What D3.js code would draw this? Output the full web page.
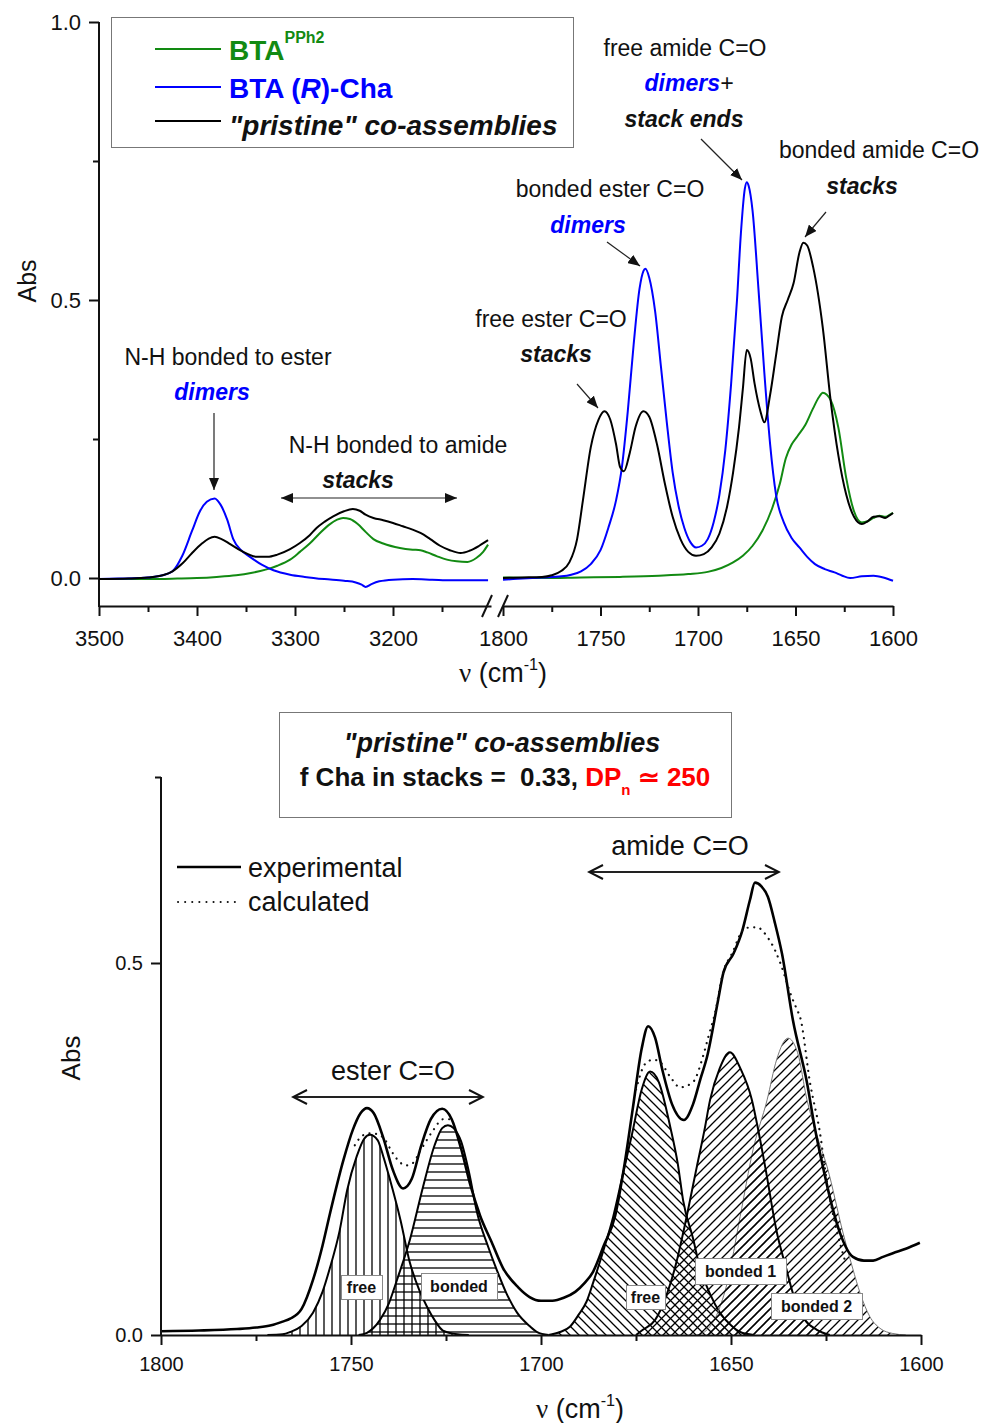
<!DOCTYPE html>
<html>
<head>
<meta charset="utf-8">
<script src="https://cdn.jsdelivr.net/npm/d3@7/dist/d3.min.js"></script>
<style>
  body { margin: 0; background: #fff; }
  svg text { font-family: "Liberation Sans", Arial, sans-serif; white-space: pre; }
</style>
</head>
<body>
<svg id="chart" width="984" height="1423"></svg>
<script>
//----------------------------------------------------------------------------------------------------------------------
// Data (wavenumber cm-1, absorbance)
//----------------------------------------------------------------------------------------------------------------------
const topLeftBlue = [[3500,-0.002],[3480,-0.001],[3460,0],[3445,0.002],[3435,0.005],[3425,0.012],[3415,0.04],[3405,0.085],
  [3397,0.12],[3390,0.137],[3382,0.143],[3376,0.132],[3369,0.104],[3363,0.07],[3355,0.05],[3346,0.038],[3334,0.024],
  [3322,0.014],[3305,0.006],[3290,0.002],[3270,-0.002],[3250,-0.005],[3238,-0.008],[3232,-0.012],[3228,-0.016],
  [3222,-0.011],[3214,-0.006],[3200,-0.003],[3180,-0.002],[3160,-0.003],[3140,-0.004],[3120,-0.004],[3103,-0.004]];
const topLeftBlack = [[3500,-0.002],[3470,-0.001],[3450,0.001],[3435,0.005],[3425,0.012],[3415,0.026],[3405,0.045],
  [3395,0.062],[3388,0.071],[3382,0.074],[3375,0.07],[3367,0.062],[3358,0.052],[3348,0.043],[3339,0.038],[3328,0.038],
  [3318,0.042],[3305,0.052],[3295,0.063],[3285,0.077],[3278,0.09],[3270,0.101],[3261,0.111],[3250,0.12],[3241,0.124],
  [3234,0.121],[3228,0.114],[3220,0.108],[3210,0.104],[3200,0.099],[3190,0.093],[3180,0.087],[3172,0.081],[3162,0.07],
  [3152,0.058],[3142,0.05],[3131,0.045],[3122,0.049],[3112,0.058],[3103,0.068]];
const topLeftGreen = [[3500,-0.002],[3450,-0.002],[3420,-0.001],[3400,0],[3380,0.002],[3360,0.005],[3345,0.009],
  [3330,0.015],[3318,0.022],[3305,0.033],[3295,0.047],[3285,0.062],[3275,0.08],[3265,0.096],[3257,0.105],[3251,0.108],
  [3244,0.106],[3236,0.097],[3228,0.083],[3220,0.07],[3210,0.062],[3193,0.054],[3180,0.051],[3172,0.05],[3165,0.046],
  [3155,0.039],[3145,0.033],[3135,0.03],[3124,0.029],[3115,0.036],[3108,0.047],[3103,0.06]];

const topRightBlue = [[1800,-0.003],[1790,-0.001],[1780,0.001],[1770,0.003],[1765,0.006],[1760,0.012],[1755,0.025],
  [1750,0.05],[1746,0.09],[1742,0.14],[1739,0.2],[1736,0.3],[1733,0.42],[1730,0.52],[1728,0.552],[1727,0.556],
  [1725,0.54],[1722,0.48],[1719,0.38],[1716,0.28],[1713,0.19],[1710,0.13],[1707,0.09],[1704,0.065],[1701,0.055],
  [1698,0.058],[1695,0.07],[1692,0.1],[1689,0.15],[1686,0.23],[1683,0.35],[1680,0.5],[1678,0.62],[1676,0.7],
  [1675,0.712],[1674,0.705],[1672,0.66],[1669,0.52],[1666,0.37],[1663,0.24],[1660,0.15],[1656,0.1],[1652,0.072],
  [1648,0.055],[1644,0.038],[1640,0.025],[1635,0.016],[1630,0.01],[1626,0.004],[1622,0.0],[1616,0.003],[1610,0.004],
  [1605,0.001],[1600,-0.005]];
const topRightBlack = [[1800,0.0],[1790,0.001],[1780,0.002],[1775,0.005],[1770,0.013],[1766,0.028],[1762,0.07],
  [1759,0.14],[1755,0.235],[1751,0.285],[1748,0.3],[1745,0.285],[1742,0.24],[1740,0.2],[1738,0.192],[1735,0.225],
  [1732,0.272],[1728,0.3],[1725,0.29],[1721,0.24],[1717,0.17],[1713,0.11],[1709,0.07],[1705,0.047],[1701,0.04],
  [1697,0.043],[1693,0.055],[1689,0.08],[1685,0.13],[1682,0.19],[1679,0.27],[1677,0.34],[1675,0.41],[1673,0.395],
  [1671,0.35],[1668,0.3],[1666,0.28],[1663,0.33],[1660,0.4],[1657,0.47],[1654,0.5],[1651,0.53],[1648,0.585],
  [1646,0.603],[1644,0.598],[1641,0.56],[1636,0.45],[1632,0.32],[1628,0.22],[1624,0.15],[1620,0.11],[1616,0.097],
  [1613,0.102],[1610,0.11],[1607,0.111],[1604,0.108],[1602,0.112],[1600,0.117]];
const topRightGreen = [[1800,0.001],[1780,0.0],[1760,0.001],[1740,0.002],[1720,0.004],[1705,0.007],[1695,0.011],
  [1688,0.018],[1682,0.028],[1677,0.04],[1672,0.058],[1667,0.085],[1662,0.125],[1658,0.17],[1655,0.215],[1652,0.24],
  [1649,0.255],[1645,0.275],[1641,0.305],[1638,0.325],[1636,0.333],[1632,0.32],[1628,0.27],[1624,0.18],[1620,0.12],
  [1616,0.1],[1613,0.102],[1610,0.108],[1607,0.112],[1604,0.11],[1602,0.113],[1600,0.117]];

const experimental = [[1800,0.005],[1790,0.006],[1780,0.008],[1775,0.01],[1771,0.013],[1768,0.018],[1766,0.022],
  [1763,0.035],[1760,0.074],[1757.5,0.12],[1755.5,0.164],[1752,0.235],[1749.5,0.276],[1747.5,0.298],[1745.8,0.305],
  [1744,0.298],[1741.5,0.265],[1739,0.222],[1736.3,0.197],[1734,0.21],[1731.5,0.255],[1729,0.29],[1726,0.304],
  [1723.5,0.29],[1721,0.25],[1718.5,0.2],[1716,0.16],[1713,0.125],[1710,0.09],[1706,0.064],[1703,0.051],[1700,0.046],
  [1697,0.046],[1694,0.05],[1691,0.058],[1688.5,0.07],[1686.3,0.085],[1683.5,0.12],[1680.5,0.16],[1678,0.23],
  [1675.8,0.306],[1673.5,0.385],[1671.8,0.415],[1670,0.4],[1668,0.355],[1665.5,0.31],[1662.4,0.289],[1660,0.31],
  [1658,0.345],[1656.3,0.374],[1653.4,0.45],[1652,0.487],[1649.3,0.513],[1647,0.544],[1645,0.585],[1643.7,0.608],
  [1642,0.603],[1640.3,0.589],[1638.5,0.555],[1636.6,0.513],[1633.7,0.423],[1630,0.339],[1628,0.28],[1625.8,0.226],
  [1623.5,0.175],[1621.3,0.137],[1617.9,0.105],[1615,0.1],[1612.6,0.1],[1610,0.105],[1607.4,0.11],[1604,0.116],
  [1600.3,0.124]];
const calcEster = [[1749,0.255],[1747,0.268],[1745,0.271],[1743,0.27],[1741,0.262],[1739.2,0.246],[1737.1,0.232],
  [1735.5,0.228],[1734,0.23],[1731.5,0.25],[1728.4,0.275],[1725.8,0.29],[1724,0.29]];
const calcAmide = [[1675,0.33],[1672.5,0.365],[1670.5,0.37],[1668.7,0.367],[1666,0.347],[1663.4,0.333],[1660,0.34],
  [1657.4,0.374],[1656,0.4],[1654.2,0.433],[1652.1,0.487],[1649.7,0.513],[1646.3,0.547],[1643.2,0.548],[1640.3,0.534],
  [1638.4,0.517],[1637.1,0.501],[1634,0.454],[1632.6,0.437],[1631.8,0.427],[1629.2,0.339],[1626.6,0.272],
  [1624.7,0.204],[1622,0.137],[1620,0.1]];

const esterFree = [[1772,0],[1768,0.001],[1766,0.004],[1763,0.012],[1760,0.03],[1757.5,0.058],[1755.5,0.091],
  [1753,0.14],[1751,0.195],[1748.5,0.24],[1746.5,0.264],[1745,0.269],[1743,0.262],[1741.5,0.24],[1739.7,0.208],
  [1737,0.155],[1734.5,0.097],[1732,0.06],[1730,0.038],[1728,0.02],[1725.8,0.006],[1722,0.001],[1719,0]];
const esterBonded = [[1748,0],[1745.8,0.003],[1742.4,0.02],[1740,0.043],[1737.9,0.074],[1734.5,0.128],[1731,0.2],
  [1728,0.255],[1726,0.278],[1724.5,0.282],[1723,0.278],[1721,0.26],[1719,0.22],[1716.8,0.164],[1714,0.12],
  [1711.6,0.087],[1709,0.055],[1706.3,0.03],[1703,0.012],[1701,0.004],[1698,0]];
const amideFree = [[1698,0],[1695,0.004],[1692.4,0.011],[1690,0.028],[1688,0.045],[1686.3,0.07],[1683.5,0.115],
  [1681,0.159],[1678.5,0.215],[1676,0.271],[1673.5,0.33],[1671.3,0.354],[1669,0.34],[1666,0.28],[1664,0.23],
  [1662.6,0.181],[1660,0.13],[1658.2,0.091],[1655.5,0.055],[1652.9,0.03],[1650,0.013],[1647.6,0.004],[1644,0]];
const amideBonded1 = [[1675,0],[1673.2,0.007],[1670,0.02],[1666.8,0.056],[1664.5,0.095],[1662.6,0.137],[1659,0.226],
  [1657,0.275],[1655.5,0.316],[1653,0.358],[1650.3,0.38],[1647.5,0.358],[1644.5,0.316],[1643,0.28],[1641,0.226],
  [1637.9,0.137],[1635.5,0.09],[1633.7,0.056],[1630.5,0.02],[1627.4,0.007],[1624,0]];
const amideBonded2 = [[1659,0],[1656.3,0.007],[1653.5,0.03],[1651,0.07],[1647.6,0.159],[1644.2,0.249],[1640.5,0.316],
  [1638,0.37],[1635,0.399],[1632.5,0.38],[1630,0.316],[1627.5,0.27],[1624.7,0.226],[1620.5,0.137],[1618,0.09],
  [1616,0.056],[1613.5,0.025],[1610.8,0.009],[1607.4,0.002],[1604,0]];

// tick values
const topYTicks = [0, 0.5, 1.0], topYMinor = [0.25, 0.75];
const topLeftTicks = [3500, 3400, 3300, 3200], topLeftMinor = [3450, 3350, 3250, 3150];
const topRightTicks = [1800, 1750, 1700, 1650, 1600], topRightMinor = [1775, 1725, 1675, 1625];
const botXTicks = [1800, 1750, 1700, 1650, 1600], botXMinor = [1775, 1725, 1675, 1625];
const botYTicks = [0, 0.5], botYMinor = [0.75];

const GREEN = "#128a12", BLUE = "#0000ff";

//----------------------------------------------------------------------------------------------------------------------
// Setup
//----------------------------------------------------------------------------------------------------------------------
const svg = d3.select("#chart");
const defs = svg.append("defs");

function hatch(id, size, d) {
    defs.append("pattern").attr("id", id).attr("patternUnits", "userSpaceOnUse")
        .attr("width", size).attr("height", size)
        .append("path").attr("d", d).attr("stroke", "#000").attr("stroke-width", 1.3).attr("fill", "none");
}
hatch("hVert", 8, "M4,0V8");
hatch("hHorz", 8, "M0,4H8");
hatch("hBack", 9, "M0,0L9,9M-3,6L3,12M6,-3L12,3");
hatch("hFwd", 9, "M0,9L9,0M-3,3L3,-3M6,12L12,6");

defs.append("marker").attr("id", "headFill").attr("viewBox", "0 0 12 10")
    .attr("refX", 12).attr("refY", 5).attr("markerWidth", 12).attr("markerHeight", 10)
    .attr("markerUnits", "userSpaceOnUse").attr("orient", "auto-start-reverse")
    .append("path").attr("d", "M0,0L12,5L0,10Z").attr("fill", "#111");
defs.append("marker").attr("id", "headOpen").attr("viewBox", "0 0 18 18")
    .attr("refX", 16).attr("refY", 9).attr("markerWidth", 18).attr("markerHeight", 18)
    .attr("markerUnits", "userSpaceOnUse").attr("orient", "auto-start-reverse")
    .append("path").attr("d", "M2,2L16,9L2,16").attr("fill", "none").attr("stroke", "#111")
    .attr("stroke-width", 2);

function styleAxis(sel, fs) {
    sel.selectAll("text").attr("font-size", fs).attr("font-family", '"Liberation Sans", Arial, sans-serif').attr("fill", "#111");
    sel.selectAll("line").attr("stroke", "#111").attr("stroke-width", 2);
    sel.selectAll(".domain").attr("stroke", "#111").attr("stroke-width", 2);
}

function xAxis(g, scale, y, major, minor, pad, fs) {
    const a = g.append("g").attr("transform", "translate(0," + y + ")")
        .call(d3.axisBottom(scale).tickValues(major).tickSize(10).tickSizeOuter(0)
            .tickPadding(pad).tickFormat(d3.format("d")));
    styleAxis(a, fs);
    const m = g.append("g").attr("transform", "translate(0," + y + ")")
        .call(d3.axisBottom(scale).tickValues(minor).tickSize(6).tickFormat(""));
    m.select(".domain").remove();
    styleAxis(m, fs);
}

function yAxis(g, scale, x, major, minor, y0, y1, fs) {
    g.append("line").attr("x1", x).attr("x2", x).attr("y1", y0).attr("y2", y1)
        .attr("stroke", "#111").attr("stroke-width", 2);
    const a = g.append("g").attr("transform", "translate(" + x + ",0)")
        .call(d3.axisLeft(scale).tickValues(major).tickSize(10).tickPadding(8).tickFormat(d3.format(".1f")));
    a.select(".domain").remove();
    styleAxis(a, fs);
    const m = g.append("g").attr("transform", "translate(" + x + ",0)")
        .call(d3.axisLeft(scale).tickValues(minor).tickSize(6).tickFormat(""));
    m.select(".domain").remove();
    styleAxis(m, fs);
}

function label(g, x, y, txt, opt) {
    opt = opt || {};
    return g.append("text").attr("x", x).attr("y", y)
        .attr("text-anchor", opt.anchor || "middle")
        .attr("font-size", opt.size || 23)
        .attr("font-weight", opt.bold ? "bold" : "normal")
        .attr("font-style", opt.italic ? "italic" : "normal")
        .attr("fill", opt.color || "#111")
        .text(txt);
}

function arrow(g, x1, y1, x2, y2, both, open) {
    const l = g.append("line").attr("x1", x1).attr("y1", y1).attr("x2", x2).attr("y2", y2)
        .attr("stroke", "#222").attr("stroke-width", open ? 2 : 1.2)
        .attr("marker-end", open ? "url(#headOpen)" : "url(#headFill)");
    if (both) l.attr("marker-start", open ? "url(#headOpen)" : "url(#headFill)");
}

function nuLabel(g, x, y, fs) {
    const t = g.append("text").attr("x", x).attr("y", y).attr("text-anchor", "middle")
        .attr("font-size", fs).attr("fill", "#111");
    t.append("tspan").attr("font-family", '"Liberation Serif", serif').text("ν");
    t.append("tspan").text(" (cm");
    t.append("tspan").attr("dy", -fs * 0.45).attr("font-size", fs * 0.6).text("-1");
    t.append("tspan").attr("dy", fs * 0.45).text(")");
}

//----------------------------------------------------------------------------------------------------------------------
// Top chart
//----------------------------------------------------------------------------------------------------------------------
const yTop = d3.scaleLinear().domain([0, 1]).range([578, 22]);
const xL = d3.scaleLinear().domain([3500, 3100]).range([99, 491]);
const xR = d3.scaleLinear().domain([1800, 1600]).range([503, 893]);

const topG = svg.append("g");
yAxis(topG, yTop, 99, topYTicks, topYMinor, 22, 607, 22);
xAxis(topG, xL, 606, topLeftTicks, topLeftMinor, 14, 22);
xAxis(topG, xR, 606, topRightTicks, topRightMinor, 14, 22);
// axis break marks
topG.append("path").attr("d", "M482,617L492,595M498,617L508,595")
    .attr("stroke", "#111").attr("stroke-width", 2).attr("fill", "none");

const lineL = d3.line().x(d => xL(d[0])).y(d => yTop(d[1])).curve(d3.curveMonotoneX);
const lineR = d3.line().x(d => xR(d[0])).y(d => yTop(d[1])).curve(d3.curveMonotoneX);
const topSeries = [
    {left: topLeftGreen, right: topRightGreen, color: GREEN},
    {left: topLeftBlue, right: topRightBlue, color: BLUE},
    {left: topLeftBlack, right: topRightBlack, color: "#000"}
];
for (const s of topSeries) {
    topG.append("path").attr("d", lineL(s.left)).attr("fill", "none").attr("stroke", s.color).attr("stroke-width", 2);
    topG.append("path").attr("d", lineR(s.right)).attr("fill", "none").attr("stroke", s.color).attr("stroke-width", 2);
}

// legend
topG.append("rect").attr("x", 111.5).attr("y", 17.5).attr("width", 462).attr("height", 130)
    .attr("fill", "#fff").attr("stroke", "#777").attr("stroke-width", 1);
[[49, GREEN], [87, BLUE], [121, "#000"]].forEach(([y, c]) => {
    topG.append("line").attr("x1", 155).attr("x2", 221).attr("y1", y).attr("y2", y)
        .attr("stroke", c).attr("stroke-width", 2);
});
let t = label(topG, 229, 60, "BTA", {anchor: "start", size: 28, bold: true, color: GREEN});
t.append("tspan").attr("dy", -17).attr("font-size", 16).text("PPh2");
t = topG.append("text").attr("x", 229).attr("y", 98).attr("font-size", 28).attr("font-weight", "bold").attr("fill", BLUE);
t.append("tspan").text("BTA (");
t.append("tspan").attr("font-style", "italic").text("R");
t.append("tspan").text(")-Cha");
label(topG, 229, 135, "\"pristine\" co-assemblies", {anchor: "start", size: 28, bold: true, italic: true});

// annotations
label(topG, 685, 56, "free amide C=O");
t = topG.append("text").attr("x", 689).attr("y", 91).attr("text-anchor", "middle")
    .attr("font-size", 23).attr("font-weight", "bold").attr("font-style", "italic");
t.append("tspan").attr("fill", BLUE).text("dimers");
t.append("tspan").attr("fill", "#111").attr("font-weight", "normal").text("+");
label(topG, 684, 127, "stack ends", {bold: true, italic: true});
arrow(topG, 701, 139, 742, 180);

label(topG, 879, 158, "bonded amide C=O");
label(topG, 862, 194, "stacks", {bold: true, italic: true});
arrow(topG, 826, 212, 805, 237);

label(topG, 610, 197, "bonded ester C=O");
label(topG, 588, 233, "dimers", {bold: true, italic: true, color: BLUE});
arrow(topG, 607, 242, 640, 266);

label(topG, 551, 327, "free ester C=O");
label(topG, 556, 362, "stacks", {bold: true, italic: true});
arrow(topG, 577, 384, 598, 408);

label(topG, 228, 365, "N-H bonded to ester");
label(topG, 212, 400, "dimers", {bold: true, italic: true, color: BLUE});
arrow(topG, 214, 413, 214, 490);

label(topG, 398, 453, "N-H bonded to amide");
label(topG, 358, 488, "stacks", {bold: true, italic: true});
arrow(topG, 281, 498, 457, 498, true);

// axis titles
label(topG, 36, 281, "Abs", {size: 25}).attr("transform", "rotate(-90,36,281)");
nuLabel(topG, 503, 682, 27);

//----------------------------------------------------------------------------------------------------------------------
// Bottom chart
//----------------------------------------------------------------------------------------------------------------------
const yBot = d3.scaleLinear().domain([0, 0.75]).range([1335, 777]);
const xBot = d3.scaleLinear().domain([1800, 1600]).range([161, 921]);
const botG = svg.append("g");

const area = d3.area().x(d => xBot(d[0])).y0(yBot(0)).y1(d => yBot(d[1])).curve(d3.curveMonotoneX);
const line = d3.line().x(d => xBot(d[0])).y(d => yBot(d[1])).curve(d3.curveMonotoneX);

const bands = [
    {data: esterFree, fill: "url(#hVert)", stroke: "#000", w: 2},
    {data: esterBonded, fill: "url(#hHorz)", stroke: "#000", w: 2},
    {data: amideFree, fill: "url(#hBack)", stroke: "#000", w: 2},
    {data: amideBonded2, fill: "url(#hFwd)", stroke: "#777", w: 1},
    {data: amideBonded1, fill: "url(#hFwd)", stroke: "#000", w: 2}
];
for (const b of bands) {
    botG.append("path").attr("d", area(b.data)).attr("fill", b.fill).attr("stroke", "none");
    botG.append("path").attr("d", line(b.data)).attr("fill", "none").attr("stroke", b.stroke).attr("stroke-width", b.w);
}

botG.append("path").attr("d", line(experimental)).attr("fill", "none").attr("stroke", "#000").attr("stroke-width", 2.6);
[calcEster, calcAmide].forEach(c => {
    botG.append("path").attr("d", line(c)).attr("fill", "none").attr("stroke", "#111")
        .attr("stroke-width", 2.2).attr("stroke-linecap", "round").attr("stroke-dasharray", "0.1 6.5");
});

yAxis(botG, yBot, 161, botYTicks, botYMinor, 777, 1336, 20);
xAxis(botG, xBot, 1335, botXTicks, botXMinor, 12, 20);

// band labels
function boxLabel(x, y, w, h, txt) {
    botG.append("rect").attr("x", x + 0.5).attr("y", y + 0.5).attr("width", w).attr("height", h)
        .attr("fill", "#fff").attr("stroke", "#888").attr("stroke-width", 1);
    label(botG, x + w / 2, y + h / 2 + 6, txt, {size: 16, bold: true});
}
boxLabel(341, 1275, 41, 24, "free");
boxLabel(421, 1273, 76, 26, "bonded");
boxLabel(626, 1285, 39, 24, "free");
boxLabel(695, 1258, 91, 26, "bonded 1");
boxLabel(771, 1293, 91, 26, "bonded 2");

// region arrows
label(botG, 680, 855, "amide C=O", {size: 27});
arrow(botG, 589, 872, 779, 872, true, true);
label(botG, 393, 1080, "ester C=O", {size: 27});
arrow(botG, 293, 1097, 483, 1097, true, true);

// legend
botG.append("line").attr("x1", 177).attr("x2", 241).attr("y1", 867).attr("y2", 867)
    .attr("stroke", "#000").attr("stroke-width", 2.6);
botG.append("line").attr("x1", 178).attr("x2", 241).attr("y1", 902).attr("y2", 902)
    .attr("stroke", "#111").attr("stroke-width", 2).attr("stroke-linecap", "round").attr("stroke-dasharray", "0.1 7");
label(botG, 248, 877, "experimental", {anchor: "start", size: 27});
label(botG, 248, 911, "calculated", {anchor: "start", size: 27});

// title box
botG.append("rect").attr("x", 279.5).attr("y", 712.5).attr("width", 452).attr("height", 105)
    .attr("fill", "#fff").attr("stroke", "#777").attr("stroke-width", 1);
label(botG, 502, 752, "\"pristine\" co-assemblies", {size: 27, bold: true, italic: true});
t = botG.append("text").attr("x", 505).attr("y", 786).attr("text-anchor", "middle")
    .attr("font-size", 26).attr("font-weight", "bold").attr("fill", "#111");
t.append("tspan").text("f Cha in stacks =  0.33, ");
t.append("tspan").attr("fill", "#ff0000").text("DP");
t.append("tspan").attr("fill", "#ff0000").attr("font-size", 15).attr("dy", 9).text("n");
t.append("tspan").attr("fill", "#ff0000").attr("dy", -9).text(" ≃ 250");

// axis titles
label(botG, 80, 1058, "Abs", {size: 26}).attr("transform", "rotate(-90,80,1058)");
nuLabel(botG, 580, 1418, 27);
</script>
</body>
</html>
